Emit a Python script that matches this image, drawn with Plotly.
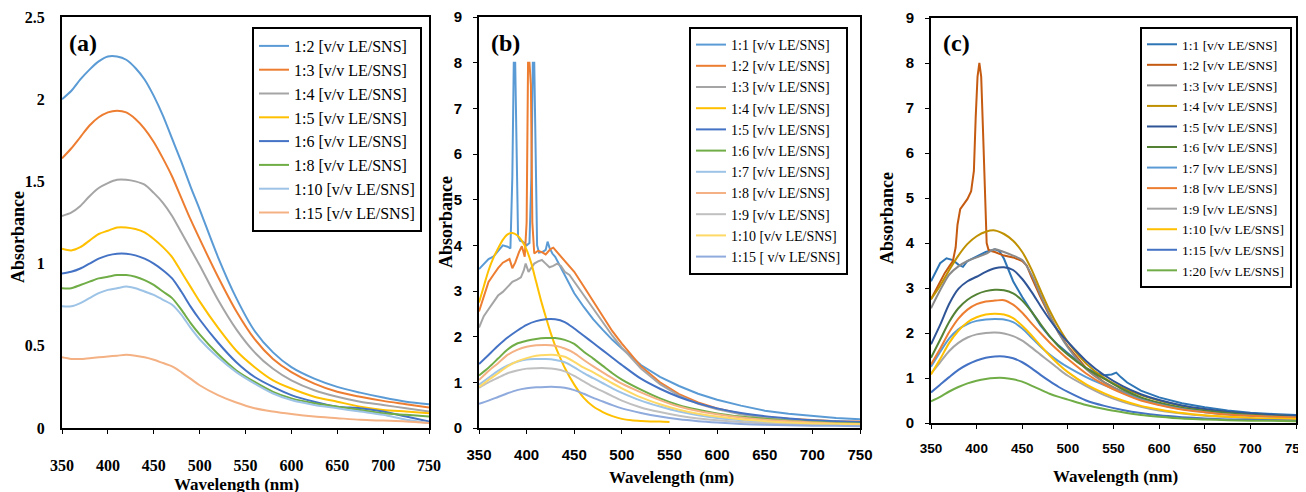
import plotly.graph_objects as go

# ---------------- data ----------------
WL = [350, 360, 370, 380, 390, 400, 410, 420, 430, 440, 450, 460, 470, 480, 490,
      500, 520, 540, 560, 580, 600, 625, 650, 675, 700, 725, 750]

# Panel (a)
A_LABELS = ["1:2", "1:3", "1:4", "1:5", "1:6", "1:8", "1:10", "1:15"]
A_COLORS = ["#5B9BD5", "#ED7D31", "#A5A5A5", "#FFC000", "#4472C4", "#70AD47", "#9DC3E6", "#F4B183"]
A_1_2 = [2.00, 2.05, 2.12, 2.18, 2.23, 2.26, 2.26, 2.24, 2.19, 2.12, 2.02, 1.90, 1.76, 1.62, 1.47, 1.33, 1.04, 0.79, 0.59, 0.46, 0.37, 0.30, 0.25, 0.215, 0.185, 0.16, 0.145]
A_1_3 = [1.64, 1.70, 1.77, 1.84, 1.89, 1.92, 1.93, 1.92, 1.88, 1.82, 1.74, 1.64, 1.53, 1.40, 1.27, 1.15, 0.92, 0.71, 0.54, 0.42, 0.34, 0.27, 0.22, 0.19, 0.165, 0.145, 0.125]
A_1_4 = [1.29, 1.31, 1.35, 1.41, 1.46, 1.49, 1.51, 1.51, 1.50, 1.48, 1.43, 1.37, 1.29, 1.19, 1.09, 0.99, 0.78, 0.60, 0.46, 0.36, 0.29, 0.23, 0.19, 0.16, 0.14, 0.12, 0.10]
A_1_5 = [1.09, 1.08, 1.10, 1.14, 1.18, 1.20, 1.22, 1.22, 1.21, 1.19, 1.15, 1.10, 1.04, 0.95, 0.86, 0.77, 0.61, 0.47, 0.37, 0.29, 0.24, 0.19, 0.16, 0.13, 0.11, 0.10, 0.09]
A_1_6 = [0.94, 0.95, 0.97, 1.00, 1.03, 1.05, 1.06, 1.06, 1.05, 1.03, 1.00, 0.96, 0.91, 0.83, 0.74, 0.66, 0.52, 0.40, 0.31, 0.25, 0.20, 0.16, 0.13, 0.12, 0.10, 0.07, 0.04]
A_1_8 = [0.85, 0.85, 0.87, 0.89, 0.91, 0.92, 0.93, 0.93, 0.92, 0.90, 0.87, 0.83, 0.79, 0.72, 0.64, 0.57, 0.45, 0.35, 0.28, 0.22, 0.18, 0.15, 0.13, 0.11, 0.09, 0.08, 0.07]
A_1_10 = [0.74, 0.74, 0.76, 0.79, 0.82, 0.84, 0.85, 0.86, 0.85, 0.83, 0.81, 0.78, 0.75, 0.69, 0.61, 0.54, 0.43, 0.34, 0.27, 0.21, 0.17, 0.14, 0.12, 0.10, 0.08, 0.05, 0.03]
A_1_15 = [0.43, 0.42, 0.42, 0.425, 0.43, 0.435, 0.44, 0.445, 0.44, 0.43, 0.415, 0.395, 0.375, 0.34, 0.30, 0.26, 0.20, 0.155, 0.12, 0.10, 0.085, 0.07, 0.06, 0.05, 0.045, 0.04, 0.03]
A_SERIES = [A_1_2, A_1_3, A_1_4, A_1_5, A_1_6, A_1_8, A_1_10, A_1_15]

# Panel (b)
B_LABELS = ["1:1", "1:2", "1:3", "1:4", "1:5", "1:6", "1:7", "1:8", "1:9", "1:10", "1:15"]
B_COLORS = ["#5B9BD5", "#ED7D31", "#A5A5A5", "#FFC000", "#4472C4", "#70AD47",
            "#9DC3E6", "#F4B183", "#C0C0C0", "#FFD966", "#8FAADC"]
WL_B1 = [350, 355, 360, 365, 370, 375, 380, 383, 385, 386.5, 388, 389.5, 391, 393, 396, 400, 403, 405,
         406.5, 408, 409.5, 411, 413, 417, 420, 422, 424, 427, 430, 440, 450, 460, 470, 480, 490, 500,
         520, 540, 560, 580, 600, 625, 650, 675, 700, 725, 750]
B_1_1 = [3.48, 3.60, 3.70, 3.75, 3.88, 4.00, 3.97, 3.93, 5.50, 8.00, 8.00, 5.50, 4.20, 4.10, 4.08, 4.00, 4.05, 5.50,
         8.00, 8.00, 5.50, 4.00, 3.84, 3.86, 3.90, 4.08, 3.95, 3.82, 3.75, 3.35, 2.95, 2.65, 2.38, 2.15, 1.93, 1.74,
         1.38, 1.12, 0.92, 0.75, 0.62, 0.49, 0.38, 0.31, 0.26, 0.22, 0.19]
WL_B2 = [350, 355, 360, 365, 370, 375, 380, 382, 385, 388, 392, 395, 398, 400, 401.5, 403, 404.5, 406, 408,
         412, 416, 420, 425, 428, 432, 436, 440, 445, 450, 460, 470, 480, 490, 500, 520, 540, 560, 580, 600,
         625, 650, 675, 700, 725, 750]
B_1_2 = [2.55, 2.90, 3.20, 3.35, 3.50, 3.62, 3.68, 3.70, 3.50, 3.62, 3.85, 3.98, 3.75, 4.50, 8.00, 8.00, 7.50, 4.50, 3.82,
         3.88, 3.85, 3.80, 3.92, 3.95, 3.85, 3.75, 3.65, 3.55, 3.42, 3.10, 2.78, 2.45, 2.12, 1.85, 1.35, 1.00, 0.74, 0.56, 0.43,
         0.31, 0.24, 0.20, 0.17, 0.15, 0.14]
WL_B3 = [350, 355, 360, 365, 370, 375, 380, 385, 390, 394, 397, 399, 402, 405, 408, 412, 416, 420, 424, 428,
         432, 436, 440, 445, 450, 460, 470, 480, 490, 500, 520, 540, 560, 580, 600, 625, 650, 675, 700, 725, 750]
B_1_3 = [2.20, 2.45, 2.60, 2.75, 2.90, 2.98, 3.10, 3.20, 3.25, 3.30, 3.45, 3.60, 3.42, 3.50, 3.60, 3.65, 3.68, 3.60, 3.52, 3.55,
         3.60, 3.55, 3.42, 3.35, 3.20, 2.90, 2.60, 2.30, 2.02, 1.76, 1.30, 0.96, 0.71, 0.53, 0.41, 0.30, 0.23, 0.19, 0.16, 0.14, 0.12]
WL_B4 = [350, 355, 360, 365, 370, 375, 380, 385, 390, 395, 400, 405, 410, 415, 420, 425, 430, 435, 440,
         450, 460, 470, 480, 490, 500, 510, 520, 530, 540, 550]
B_1_4 = [2.75, 3.10, 3.45, 3.72, 3.93, 4.12, 4.24, 4.27, 4.22, 4.10, 3.90, 3.60, 3.20, 2.80, 2.44, 2.10, 1.80, 1.55, 1.32,
         0.95, 0.66, 0.47, 0.35, 0.26, 0.20, 0.17, 0.155, 0.145, 0.14, 0.13]
B_1_5 = [1.40, 1.60, 1.80, 1.98, 2.13, 2.26, 2.34, 2.38, 2.38, 2.32, 2.18, 2.02, 1.86, 1.70, 1.54, 1.38, 1.08, 0.86, 0.68, 0.54, 0.43, 0.33, 0.26, 0.21, 0.17, 0.15, 0.13]
B_1_6 = [1.15, 1.32, 1.52, 1.72, 1.85, 1.91, 1.95, 1.97, 1.97, 1.93, 1.84, 1.67, 1.52, 1.36, 1.20, 1.06, 0.84, 0.65, 0.50, 0.40, 0.32, 0.25, 0.20, 0.16, 0.13, 0.11, 0.10]
B_1_7 = [0.95, 1.10, 1.25, 1.37, 1.45, 1.50, 1.51, 1.51, 1.49, 1.44, 1.33, 1.20, 1.09, 0.98, 0.87, 0.77, 0.60, 0.47, 0.36, 0.28, 0.22, 0.17, 0.13, 0.11, 0.09, 0.08, 0.07]
B_1_8 = [1.05, 1.25, 1.42, 1.60, 1.71, 1.78, 1.81, 1.82, 1.80, 1.74, 1.64, 1.49, 1.35, 1.22, 1.09, 0.97, 0.78, 0.61, 0.47, 0.37, 0.30, 0.23, 0.18, 0.15, 0.12, 0.10, 0.09]
B_1_9 = [0.88, 1.00, 1.10, 1.20, 1.26, 1.30, 1.31, 1.31, 1.29, 1.24, 1.14, 1.02, 0.90, 0.80, 0.70, 0.60, 0.45, 0.35, 0.27, 0.21, 0.17, 0.13, 0.10, 0.08, 0.07, 0.06, 0.05]
B_1_10 = [0.90, 1.05, 1.20, 1.35, 1.46, 1.53, 1.58, 1.60, 1.60, 1.56, 1.45, 1.32, 1.22, 1.10, 0.98, 0.87, 0.67, 0.52, 0.40, 0.31, 0.25, 0.19, 0.15, 0.12, 0.10, 0.09, 0.08]
B_1_15 = [0.53, 0.60, 0.68, 0.76, 0.83, 0.87, 0.89, 0.90, 0.90, 0.88, 0.83, 0.75, 0.66, 0.58, 0.50, 0.43, 0.33, 0.25, 0.19, 0.15, 0.12, 0.09, 0.07, 0.06, 0.05, 0.05, 0.04]
B_X = [WL_B1, WL_B2, WL_B3, WL_B4, WL, WL, WL, WL, WL, WL, WL]
B_SERIES = [B_1_1, B_1_2, B_1_3, B_1_4, B_1_5, B_1_6, B_1_7, B_1_8, B_1_9, B_1_10, B_1_15]
B_SPIKY = [True, True, True, False, False, False, False, False, False, False, False]

# Panel (c)
C_LABELS = ["1:1", "1:2", "1:3", "1:4", "1:5", "1:6", "1:7", "1:8", "1:9", "1:10", "1:15", "1:20"]
C_COLORS = ["#2E75B6", "#C55A11", "#8A8A8A", "#BF9000", "#2F5597", "#548235",
            "#5B9BD5", "#ED7D31", "#A5A5A5", "#FFC000", "#4472C4", "#70AD47"]
WL_C1 = [350, 355, 360, 367, 374, 380, 385, 390, 400, 410, 420, 425, 430, 440, 450, 460, 470, 480, 490,
         500, 510, 520, 530, 540, 548, 553, 558, 565, 580, 600, 625, 650, 675, 700, 725, 750]
C_1_1 = [3.15, 3.35, 3.55, 3.66, 3.62, 3.52, 3.47, 3.60, 3.70, 3.80, 3.86, 3.82, 3.65, 3.15, 2.80, 2.48, 2.17, 1.92, 1.72,
         1.55, 1.38, 1.22, 1.12, 1.06, 1.08, 1.12, 1.02, 0.90, 0.72, 0.57, 0.44, 0.35, 0.28, 0.23, 0.20, 0.18]
WL_C2 = [350, 355, 360, 365, 370, 374, 377, 379, 382, 386, 390, 394, 397, 399, 401, 403, 405, 407, 409, 411,
         413, 416, 420, 430, 440, 450, 455, 460, 470, 480, 490, 500, 520, 540, 560, 580, 600, 625, 650, 675,
         700, 725, 750]
C_1_2 = [2.75, 2.95, 3.15, 3.33, 3.48, 3.60, 3.90, 4.40, 4.75, 4.88, 4.98, 5.15, 5.60, 6.80, 7.70, 8.00, 7.70, 6.50, 5.00, 4.00,
         3.85, 3.82, 3.80, 3.72, 3.68, 3.60, 3.50, 3.25, 2.80, 2.38, 2.00, 1.70, 1.22, 0.90, 0.68, 0.53, 0.42, 0.32, 0.25, 0.20,
         0.17, 0.15, 0.13]
C_1_3 = [2.55, 2.95, 3.30, 3.48, 3.60, 3.68, 3.76, 3.86, 3.80, 3.72, 3.62, 3.30, 2.85, 2.40, 2.00, 1.68, 1.20, 0.90, 0.70, 0.55, 0.44, 0.33, 0.26, 0.21, 0.17, 0.15, 0.13]
C_1_4 = [2.75, 3.05, 3.40, 3.72, 3.98, 4.15, 4.25, 4.28, 4.20, 4.05, 3.80, 3.42, 2.95, 2.50, 2.12, 1.80, 1.32, 1.00, 0.78, 0.62, 0.50, 0.38, 0.30, 0.24, 0.20, 0.17, 0.15]
C_1_5 = [1.75, 2.18, 2.65, 2.98, 3.15, 3.25, 3.36, 3.44, 3.46, 3.40, 3.20, 2.92, 2.60, 2.30, 2.03, 1.80, 1.38, 1.06, 0.82, 0.64, 0.51, 0.39, 0.31, 0.25, 0.21, 0.18, 0.16]
C_1_6 = [1.45, 1.85, 2.25, 2.55, 2.74, 2.86, 2.93, 2.96, 2.95, 2.88, 2.72, 2.48, 2.20, 1.93, 1.70, 1.52, 1.22, 0.98, 0.75, 0.57, 0.45, 0.34, 0.27, 0.22, 0.18, 0.15, 0.13]
C_1_7 = [1.25, 1.58, 1.88, 2.08, 2.20, 2.27, 2.30, 2.31, 2.30, 2.24, 2.10, 1.90, 1.70, 1.52, 1.37, 1.24, 1.02, 0.84, 0.67, 0.52, 0.41, 0.31, 0.24, 0.19, 0.16, 0.14, 0.12]
C_1_8 = [1.30, 1.65, 2.02, 2.32, 2.52, 2.64, 2.70, 2.72, 2.73, 2.63, 2.45, 2.22, 2.00, 1.79, 1.60, 1.42, 1.10, 0.85, 0.66, 0.50, 0.40, 0.30, 0.24, 0.19, 0.16, 0.14, 0.12]
C_1_9 = [1.10, 1.35, 1.60, 1.78, 1.90, 1.97, 2.00, 2.01, 1.99, 1.93, 1.83, 1.68, 1.52, 1.36, 1.20, 1.05, 0.82, 0.62, 0.47, 0.36, 0.28, 0.21, 0.16, 0.13, 0.10, 0.09, 0.08]
C_1_10 = [1.08, 1.42, 1.78, 2.05, 2.24, 2.35, 2.41, 2.43, 2.41, 2.33, 2.16, 1.95, 1.72, 1.50, 1.30, 1.13, 0.86, 0.66, 0.50, 0.38, 0.30, 0.22, 0.17, 0.14, 0.11, 0.10, 0.09]
C_1_15 = [0.68, 0.85, 1.02, 1.18, 1.30, 1.39, 1.45, 1.48, 1.48, 1.44, 1.35, 1.22, 1.07, 0.93, 0.80, 0.69, 0.50, 0.38, 0.29, 0.22, 0.17, 0.13, 0.10, 0.08, 0.07, 0.06, 0.05]
C_1_20 = [0.48, 0.58, 0.70, 0.80, 0.88, 0.94, 0.98, 1.00, 1.00, 0.97, 0.92, 0.83, 0.74, 0.65, 0.58, 0.52, 0.40, 0.31, 0.24, 0.18, 0.14, 0.10, 0.08, 0.06, 0.05, 0.05, 0.04]
C_X = [WL_C1, WL_C2] + [WL] * 10
C_SERIES = [C_1_1, C_1_2, C_1_3, C_1_4, C_1_5, C_1_6, C_1_7, C_1_8, C_1_9, C_1_10, C_1_15, C_1_20]
C_SPIKY = [True, True] + [False] * 10

X_TICKS = [350, 400, 450, 500, 550, 600, 650, 700, 750]
A_YTICKS = [0, 0.5, 1, 1.5, 2, 2.5]
BC_YTICKS = [0, 1, 2, 3, 4, 5, 6, 7, 8, 9]
SUFFIX = " [v/v LE/SNS]"
B_SUFFIX = [SUFFIX] * 10 + [" [ v/v LE/SNS]"]

# ---------------- figure ----------------
W, H = 1306, 492
OFF = 8  # page body margin of the html page
fig = go.Figure()

def px(x):
    return (x - OFF) / W

def py(y):
    return 1 - (y - OFF) / H

def add_series(xs_list, ys_list, labels, colors, spiky, xaxis, yaxis, legend, suffixes):
    for xs, ys, lab, col, sp, suf in zip(xs_list, ys_list, labels, colors, spiky, suffixes):
        fig.add_trace(go.Scatter(
            x=xs, y=ys, mode="lines", name=lab + suf,
            line=dict(color=col, width=2, shape="linear" if sp else "spline", smoothing=0.8),
            xaxis=xaxis, yaxis=yaxis, legend=legend, hoverinfo="skip"))

add_series([WL] * 8, A_SERIES, A_LABELS, A_COLORS, [False] * 8, "x", "y", "legend", [SUFFIX] * 8)
add_series(B_X, B_SERIES, B_LABELS, B_COLORS, B_SPIKY, "x2", "y2", "legend2", B_SUFFIX)
add_series(C_X, C_SERIES, C_LABELS, C_COLORS, C_SPIKY, "x3", "y3", "legend3", [SUFFIX] * 12)

serif = "Liberation Serif"
sans = "Liberation Sans Narrow, Liberation Sans, Arial"

def xaxis_cfg(dom, fam, size, standoff, anchor):
    return dict(domain=dom, range=[350, 750], tickvals=X_TICKS, showline=True, mirror=True,
                linecolor="black", linewidth=2, ticks="outside", ticklen=4, tickcolor="black",
                showgrid=False, zeroline=False, anchor=anchor, automargin=False,
                tickfont=dict(family=fam, size=size, color="black", weight="bold"),
                ticklabelstandoff=standoff)

def yaxis_cfg(dom, rng, tv, fam, size, standoff, anchor, ticks):
    return dict(domain=dom, range=rng, tickvals=tv, showline=True, mirror=True,
                linecolor="black", linewidth=2, ticks=ticks, ticklen=4, tickcolor="black",
                showgrid=False, zeroline=False, anchor=anchor, automargin=False,
                tickfont=dict(family=fam, size=size, color="black", weight="bold"),
                ticklabelstandoff=standoff)

ya_dom = [py(428), py(17)]
yc_dom = [py(423), py(18)]

fig.update_layout(
    width=W, height=H, margin=dict(l=0, r=0, t=0, b=0, autoexpand=False),
    paper_bgcolor="white", plot_bgcolor="white",
    xaxis=xaxis_cfg([px(62), px(429)], serif, 16, 18, "y"),
    yaxis=yaxis_cfg(ya_dom, [0, 2.5], A_YTICKS, serif, 16, 12, "x", ""),
    xaxis2=xaxis_cfg([px(479), px(860)], sans, 15, 8, "y2"),
    yaxis2=yaxis_cfg(ya_dom, [0, 9], BC_YTICKS, sans, 15, 8, "x2", "outside"),
    xaxis3=xaxis_cfg([px(931), px(1296)], sans, 13.5, 8, "y3"),
    yaxis3=yaxis_cfg(yc_dom, [0, 9], BC_YTICKS, sans, 15, 8, "x3", "outside"),
)

def legend_cfg(xr, yt, size):
    return dict(x=px(xr), y=py(yt), xanchor="right", yanchor="top", bgcolor="white",
                bordercolor="black", borderwidth=2, tracegroupgap=0,
                font=dict(family=serif, size=size, color="black"))

fig.update_layout(legend=legend_cfg(422, 27, 16),
                  legend2=legend_cfg(848, 27, 14),
                  legend3=legend_cfg(1292, 27, 13.5))

ann = []
for txt, x, y in [("(a)", 83, 43), ("(b)", 505, 43), ("(c)", 956, 43)]:
    ann.append(dict(text="<b>%s</b>" % txt, x=px(x), y=py(y), xref="paper", yref="paper",
                    xanchor="center", yanchor="middle",
                    showarrow=False, font=dict(family=serif, size=24, color="black")))
for x, y in [(18, 237), (446, 222), (887, 218)]:
    ann.append(dict(text="<b>Absorbance</b>", x=px(x), y=py(y), xref="paper", yref="paper",
                    xanchor="center", yanchor="middle",
                    showarrow=False, textangle=-90, font=dict(family=serif, size=18, color="black")))
for x, y in [(236, 484), (671, 477), (1115, 476)]:
    ann.append(dict(text="<b>Wavelength (nm)</b>", x=px(x), y=py(y), xref="paper", yref="paper",
                    xanchor="center", yanchor="middle",
                    showarrow=False, font=dict(family=serif, size=17, color="black")))
fig.update_layout(annotations=ann)

fig.write_html("out.html")
